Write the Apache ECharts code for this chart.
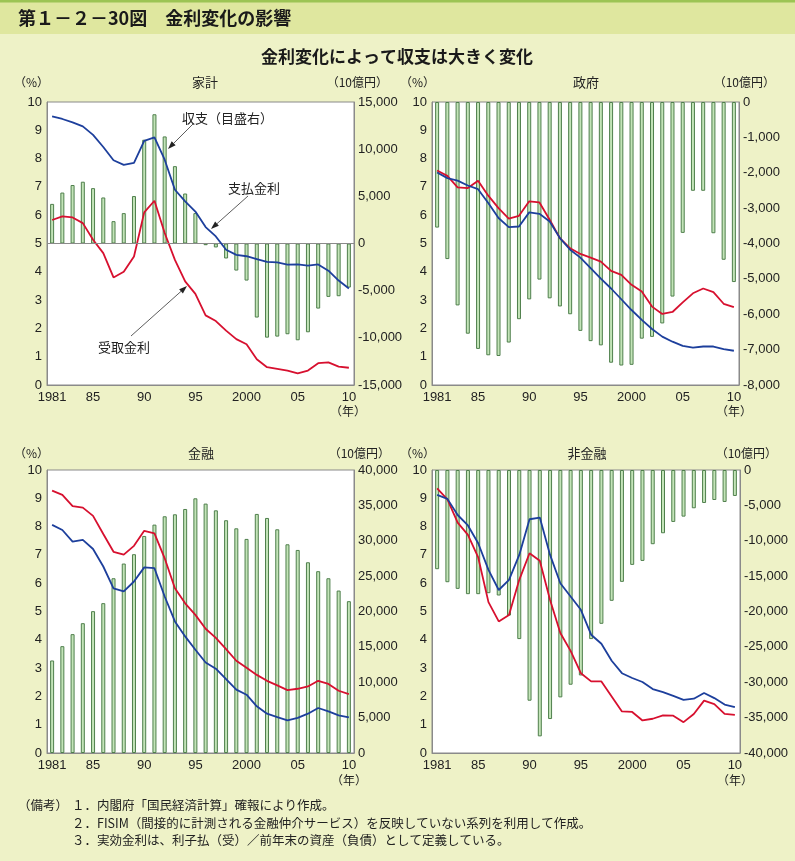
<!DOCTYPE html>
<html><head><meta charset="utf-8">
<script src="https://cdn.jsdelivr.net/npm/echarts@6/dist/echarts.min.js"></script>
<style>html,body{margin:0;padding:0;background:#eef2c7}#c{width:795px;height:861px}</style>
</head><body><div id="c"></div>
<script>
// ---- data ----
const years = ['1981','1982','1983','1984','1985','1986','1987','1988','1989','1990',
  '1991','1992','1993','1994','1995','1996','1997','1998','1999','2000',
  '2001','2002','2003','2004','2005','2006','2007','2008','2009','2010'];
const yearTickLabels = {'1981':'1981','1985':'85','1990':'90','1995':'95','2000':'2000','2005':'05','2010':'10'};

// 家計
const hhBalance = [4200,5400,6200,6550,5870,4880,2370,3220,5030,11000,13700,11350,8200,5300,3220,-180,-420,-1590,-2870,-3930,-7850,-9980,-9870,-9620,-10260,-9410,-6900,-5660,-5590,-4670];
const hhPayRate = [9.49,9.40,9.28,9.14,8.84,8.41,7.94,7.78,7.85,8.63,8.75,7.96,6.90,6.49,6.13,5.58,5.25,4.78,4.60,4.55,4.45,4.35,4.33,4.25,4.26,4.22,4.26,4.04,3.69,3.41];
const hhRecvRate = [5.83,5.96,5.92,5.72,5.13,4.66,3.80,4.00,4.54,6.10,6.51,5.37,4.42,3.66,3.22,2.46,2.26,1.92,1.62,1.44,0.91,0.63,0.57,0.51,0.41,0.51,0.77,0.80,0.65,0.61];

// 政府
const govBalance = [-3550,-4440,-5750,-6550,-6980,-7160,-7180,-6800,-6140,-5580,-5020,-5550,-5780,-6000,-6470,-6760,-6880,-7370,-7450,-7430,-6690,-6640,-6260,-5500,-3700,-2510,-2510,-3710,-4460,-5090];
const govPayRate = [7.51,7.31,7.22,7.05,6.92,6.43,5.90,5.58,5.60,6.10,6.05,5.78,5.19,4.78,4.50,4.13,3.76,3.41,3.03,2.65,2.30,1.98,1.71,1.53,1.38,1.32,1.36,1.36,1.27,1.21];
const govRecvRate = [7.58,7.39,6.98,6.96,7.22,6.69,6.25,5.88,5.98,6.49,6.45,5.84,5.19,4.83,4.63,4.50,4.36,4.03,3.89,3.54,3.30,2.77,2.51,2.58,2.92,3.24,3.41,3.28,2.87,2.75];

// 金融
const finBalance = [13080,15100,16800,18350,20050,21180,24700,26780,28100,30680,32280,33460,33740,34490,36000,35250,34300,32900,31760,30260,33790,33220,31620,29500,28700,26960,25700,24700,22960,21460];
const finPayRate = [8.06,7.88,7.47,7.53,7.21,6.59,5.82,5.71,6.06,6.56,6.53,5.53,4.65,4.12,3.65,3.20,2.98,2.61,2.24,2.06,1.65,1.39,1.27,1.15,1.24,1.39,1.59,1.47,1.33,1.26];
const finRecvRate = [9.27,9.12,8.72,8.67,8.38,7.74,7.11,7.01,7.32,7.85,7.76,6.88,5.82,5.29,4.88,4.39,4.07,3.67,3.26,3.01,2.76,2.55,2.39,2.22,2.27,2.35,2.55,2.44,2.20,2.08];

// 非金融
const nfBalance = [-14020,-15860,-16800,-17550,-17550,-17410,-17740,-20570,-23900,-32610,-37650,-35200,-32140,-30350,-29040,-23900,-21740,-18490,-15810,-13410,-12850,-10490,-8940,-7340,-6590,-5410,-4660,-4240,-4520,-3670];
const nfPayRate = [9.12,8.98,8.41,8.04,7.41,6.47,5.76,6.12,7.00,8.26,8.32,7.00,6.00,5.53,5.06,4.18,3.86,3.26,2.82,2.65,2.51,2.26,2.15,2.02,1.88,1.92,2.12,1.94,1.71,1.62];
const nfRecvRate = [9.35,8.96,8.14,7.71,6.91,5.33,4.65,4.88,6.12,7.06,6.79,5.41,4.24,3.61,2.82,2.53,2.53,2.00,1.47,1.45,1.15,1.21,1.33,1.32,1.09,1.38,1.85,1.73,1.38,1.35];

const panelTitles = ['家計','政府','金融','非金融'];
const rightAxes = [
  {min:-15000,max:15000,interval:5000},
  {min:-8000,max:0,interval:1000},
  {min:0,max:40000,interval:5000},
  {min:-40000,max:0,interval:5000}
];
const panels = [
  {bal:hhBalance, pay:hhPayRate, recv:hhRecvRate},
  {bal:govBalance, pay:govPayRate, recv:govRecvRate},
  {bal:finBalance, pay:finPayRate, recv:finRecvRate},
  {bal:nfBalance, pay:nfPayRate, recv:nfRecvRate}
];

// ---- layout / style ----
const CJK = '"Noto Sans CJK JP", "Noto Sans", sans-serif';
const NUM = '"Liberation Sans Narrow", "Liberation Sans", Arial, sans-serif';
const grids = [
  {left:47, right:441, top:102, bottom:476},
  {left:432, right:56, top:102, bottom:476},
  {left:47, right:441, top:470, bottom:108},
  {left:432, right:55, top:470, bottom:108}
];
const RED = '#d7102f', BLUE = '#1d3f9c', AX = '#8a8a8a';
const fmt = v => v.toLocaleString('en-US');

const xAxes = [], yAxes = [], series = [];
grids.forEach((g, i) => {
  xAxes.push({
    type:'category', gridIndex:i, data:years, boundaryGap:true,
    axisLine:{lineStyle:{color:AX, width:1}},
    axisTick:{inside:true, length:5, interval:0, lineStyle:{color:AX}},
    axisLabel:{interval:(idx, v) => v in yearTickLabels, formatter:v => yearTickLabels[v] || '',
      color:'#222', fontSize:13, fontFamily:NUM, margin:6}
  });
  yAxes.push({
    type:'value', gridIndex:i, position:'left', min:0, max:10, interval:1,
    axisLine:{show:true, lineStyle:{color:AX}}, axisTick:{show:false}, splitLine:{show:false},
    axisLabel:{color:'#222', fontSize:13, fontFamily:NUM, margin:5}
  });
  yAxes.push(Object.assign({
    type:'value', gridIndex:i, position:'right',
    axisLine:{show:true, lineStyle:{color:AX}}, axisTick:{show:false}, splitLine:{show:false},
    axisLabel:{color:'#222', fontSize:13, fontFamily:NUM, margin:4, formatter:fmt}
  }, rightAxes[i]));
  const p = panels[i];
  const bar = {
    type:'bar', xAxisIndex:i, yAxisIndex:2*i+1, data:p.bal, barWidth:4, z:2,
    itemStyle:{color:'#c3e4b8', borderColor:'#4f7f4c', borderWidth:1}
  };
  if (i === 0) {
    bar.markLine = {silent:true, symbol:'none', label:{show:false},
      lineStyle:{color:AX, type:'solid', width:1}, data:[{yAxis:0}]};
  }
  series.push(bar);
  series.push({type:'line', xAxisIndex:i, yAxisIndex:2*i, data:p.recv, symbol:'none', z:4,
    lineStyle:{color:RED, width:1.8}});
  series.push({type:'line', xAxisIndex:i, yAxisIndex:2*i, data:p.pay, symbol:'none', z:5,
    lineStyle:{color:BLUE, width:1.8}});
});

function txt(x, y, text, size, opts) {
  return {type:'text', x:x, y:y, z:100, style:Object.assign({text:text, fontSize:size, fontFamily:CJK,
    fill:'#222', align:'left', verticalAlign:'middle'}, opts || {})};
}
function arrow(x1, y1, x2, y2) {
  const dx = x2 - x1, dy = y2 - y1, L = Math.hypot(dx, dy);
  const ux = dx / L, uy = dy / L, nx = -uy, ny = ux, hl = 8, hw = 2.8;
  const bx = x2 - ux * hl, by = y2 - uy * hl;
  return [
    {type:'polyline', z:100, shape:{points:[[x1,y1],[bx,by]]}, style:{stroke:'#333', lineWidth:0.8}},
    {type:'polygon', z:100, shape:{points:[[x2,y2],[bx+nx*hw,by+ny*hw],[bx-nx*hw,by-ny*hw]]}, style:{fill:'#222'}}
  ];
}

const graphic = [
  {type:'rect', z:-10, shape:{x:0,y:0,width:795,height:34}, style:{fill:'#dfe79f'}},
  {type:'rect', z:-9, shape:{x:0,y:0,width:795,height:2.5}, style:{fill:'#9cc454'}},
  txt(18, 18, '第１－２－30図　金利変化の影響', 18, {fontWeight:'bold', fill:'#1a1a1a'}),
  txt(397, 57, '金利変化によって収支は大きく変化', 17, {align:'center', fontWeight:'bold', fill:'#1a1a1a'}),
  // panel headers
  txt(14, 82, '（%）', 12), txt(205, 82, '家計', 13, {align:'center'}), txt(388, 82, '（10億円）', 12, {align:'right'}),
  txt(400, 82, '（%）', 12), txt(586, 82, '政府', 13, {align:'center'}), txt(775, 82, '（10億円）', 12, {align:'right'}),
  txt(14, 453, '（%）', 12), txt(201, 453, '金融', 13, {align:'center'}), txt(390, 453, '（10億円）', 12, {align:'right'}),
  txt(400, 453, '（%）', 12), txt(587, 453, '非金融', 13, {align:'center'}), txt(777, 453, '（10億円）', 12, {align:'right'}),
  // (年)
  txt(348, 411, '（年）', 12, {align:'center'}), txt(734, 411, '（年）', 12, {align:'center'}),
  txt(349, 780, '（年）', 12, {align:'center'}), txt(735, 780, '（年）', 12, {align:'center'}),
  // annotations
  txt(182, 118, '収支（目盛右）', 13),
  txt(228, 188, '支払金利', 13),
  txt(98, 347, '受取金利', 13),
  ...arrow(193, 124, 168, 149),
  ...arrow(248, 196, 211, 229),
  ...arrow(131, 336, 187, 286),
  // notes
  txt(18, 805, '（備考）', 12.5),
  txt(72, 805, '１．内閣府「国民経済計算」確報により作成。', 12.5),
  txt(72, 823, '２．FISIM（間接的に計測される金融仲介サービス）を反映していない系列を利用して作成。', 12.5),
  txt(72, 840, '３．実効金利は、利子払（受）／前年末の資産（負債）として定義している。', 12.5)
];

const chart = echarts.init(document.getElementById('c'), null, {renderer:'canvas'});
chart.setOption({
  backgroundColor:'#eef2c7',
  animation:false,
  grid:grids.map(g => Object.assign({show:true, backgroundColor:'#ffffff', borderColor:AX, borderWidth:1}, g)),
  xAxis:xAxes, yAxis:yAxes, series:series, graphic:graphic
});
</script></body></html>
